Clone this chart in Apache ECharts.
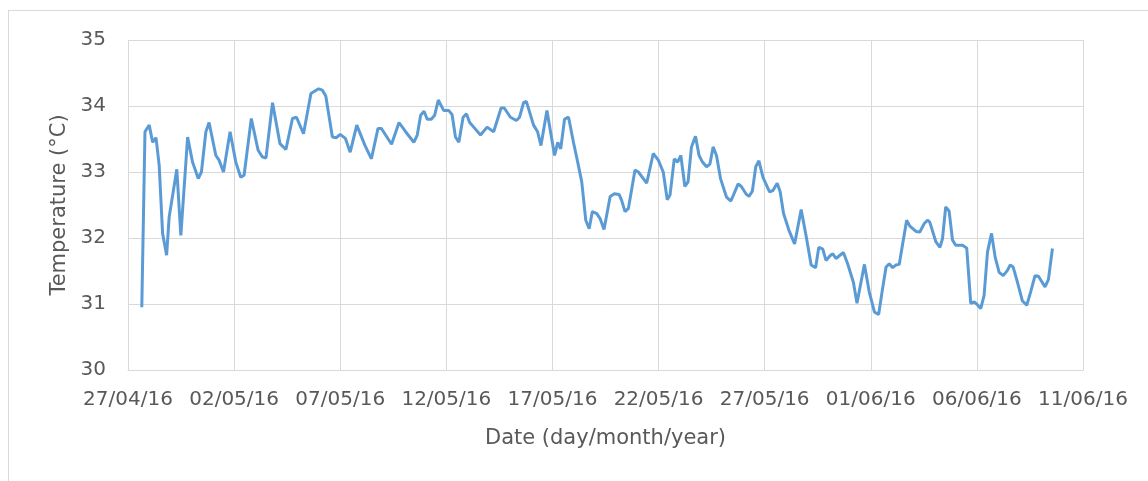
<!DOCTYPE html>
<html>
<head>
<meta charset="utf-8">
<script src="https://cdn.jsdelivr.net/npm/echarts@6/dist/echarts.min.js"></script>
<style>
  html, body { margin: 0; padding: 0; background: #fff; }
  #frame { position: absolute; left: 8px; top: 10px; width: 1200px; height: 520px; border: 1px solid #d9d9d9; }
  #chart { position: absolute; left: 0; top: 0; width: 1148px; height: 481px; }
</style>
</head>
<body>
<div id="frame"></div>
<div id="chart"></div>
<script>
// x tick labels, every 5 days from 27/04/16
const tickLabels = ['27/04/16', '02/05/16', '07/05/16', '12/05/16', '17/05/16',
  '22/05/16', '27/05/16', '01/06/16', '06/06/16', '11/06/16'];

// days since 27/04/16 00:00
const days = [
  0.65, 0.80, 1.00, 1.16, 1.32, 1.47, 1.63, 1.82, 1.94, 2.30, 2.49, 2.81, 3.04, 3.31, 3.46, 3.67, 3.82,
  4.14, 4.29, 4.50, 4.81, 5.08, 5.31, 5.47, 5.81, 6.13, 6.33, 6.50, 6.81, 7.16, 7.44, 7.75, 7.94, 8.27,
  8.62, 8.98, 9.16, 9.32, 9.63, 9.82, 10.00, 10.24, 10.47, 10.78, 11.17, 11.47, 11.78, 11.94, 12.42,
  12.77, 13.08, 13.47, 13.63, 13.79, 13.95, 14.10, 14.29, 14.45, 14.62, 14.88, 15.12, 15.27, 15.43,
  15.59, 15.79, 15.95, 16.10, 16.29, 16.61, 16.92, 17.23, 17.58, 17.73, 18.02, 18.30, 18.45, 18.64,
  18.77, 19.11, 19.30, 19.46, 19.74, 20.10, 20.25, 20.39, 20.57, 20.76, 20.99, 21.19, 21.38, 21.57,
  21.73, 21.88, 22.09, 22.25, 22.43, 22.72, 22.92, 23.14, 23.26, 23.42, 23.58, 23.89, 24.05, 24.44,
  24.75, 24.99, 25.22, 25.41, 25.54, 25.74, 25.90, 26.05, 26.24, 26.39, 26.55, 26.74, 26.91, 27.07,
  27.26, 27.42, 27.57, 27.73, 27.92, 28.20, 28.41, 28.75, 28.90, 29.14, 29.26, 29.42, 29.58, 29.73,
  29.92, 30.23, 30.39, 30.59, 30.73, 30.89, 31.14, 31.41, 31.72, 31.96, 32.19, 32.40, 32.55, 32.74,
  32.89, 33.08, 33.21, 33.36, 33.71, 33.91, 34.18, 34.35, 34.70, 34.93, 35.17, 35.37, 35.53, 35.72,
  35.87, 36.03, 36.18, 36.34, 36.69, 36.84, 37.13, 37.31, 37.52, 37.67, 37.78, 38.07, 38.26, 38.38,
  38.53, 38.69, 38.85, 39.00, 39.32, 39.52, 39.71, 39.87, 39.99, 40.18, 40.34, 40.50, 40.69, 40.86,
  41.05, 41.24, 41.44, 41.57, 41.71, 41.91, 42.14, 42.35, 42.53, 42.74, 42.90, 43.21, 43.37, 43.56
];

// temperature (°C)
const temps = [
  30.95, 33.61, 33.71, 33.45, 33.52, 33.10, 32.07, 31.74, 32.32, 33.04, 32.04, 33.53, 33.15, 32.90, 33.00, 33.61, 33.75,
  33.25, 33.18, 33.00, 33.61, 33.15, 32.92, 32.95, 33.81, 33.33, 33.23, 33.21, 34.05, 33.43, 33.34, 33.81, 33.83, 33.58,
  34.19, 34.26, 34.24, 34.15, 33.53, 33.52, 33.57, 33.51, 33.30, 33.71, 33.40, 33.20, 33.66, 33.66, 33.42,
  33.75, 33.61, 33.45, 33.56, 33.86, 33.92, 33.80, 33.80, 33.86, 34.09, 33.93, 33.93, 33.87, 33.53,
  33.45, 33.83, 33.88, 33.75, 33.68, 33.56, 33.68, 33.61, 33.97, 33.97, 33.83, 33.78, 33.83, 34.05,
  34.07, 33.71, 33.61, 33.40, 33.93, 33.25, 33.45, 33.35, 33.80, 33.83, 33.45, 33.15, 32.85, 32.27,
  32.14, 32.40, 32.37, 32.29, 32.13, 32.63, 32.67, 32.66, 32.57, 32.40, 32.45, 33.03, 33.00, 32.83,
  33.28, 33.18, 33.00, 32.58, 32.65, 33.20, 33.15, 33.25, 32.78, 32.85, 33.38, 33.54, 33.25, 33.15,
  33.08, 33.12, 33.38, 33.25, 32.90, 32.62, 32.56, 32.82, 32.78, 32.66, 32.63, 32.71, 33.08, 33.17,
  32.92, 32.70, 32.72, 32.83, 32.70, 32.37, 32.12, 31.91, 32.43, 32.02, 31.59, 31.55, 31.86, 31.83,
  31.66, 31.73, 31.76, 31.69, 31.78, 31.61, 31.33, 31.01, 31.60, 31.18, 30.88, 30.84, 31.18, 31.56,
  31.61, 31.55, 31.59, 31.60, 32.27, 32.18, 32.10, 32.09, 32.22, 32.27, 32.24, 31.94, 31.86, 31.99,
  32.47, 32.41, 31.97, 31.89, 31.89, 31.85, 31.01, 31.03, 31.00, 30.93, 31.13, 31.79, 32.07, 31.71,
  31.48, 31.43, 31.51, 31.59, 31.56, 31.33, 31.05, 30.98, 31.18, 31.43, 31.42, 31.26, 31.37, 31.84
];

const chart = echarts.init(document.getElementById('chart'));
const textColor = '#595959';
const fontFamily = '"DejaVu Sans", sans-serif';

chart.setOption({
  animation: false,
  grid: { left: 128, right: 65, top: 40, bottom: 111, containLabel: false },
  xAxis: {
    type: 'value',
    min: 0,
    max: 45,
    interval: 5,
    name: 'Date (day/month/year)',
    nameLocation: 'middle',
    nameGap: 58,
    nameTextStyle: { color: textColor, fontSize: 21, fontFamily },
    axisLine: { show: true, lineStyle: { color: '#d9d9d9', width: 1 } },
    axisTick: { show: false },
    axisLabel: {
      color: textColor, fontSize: 20, fontFamily, margin: 20,
      formatter: (v) => tickLabels[Math.round(v / 5)]
    },
    splitLine: { show: true, lineStyle: { color: '#d9d9d9', width: 1 } }
  },
  yAxis: {
    type: 'value',
    min: 30,
    max: 35,
    interval: 1,
    name: 'Temperature (°C)',
    nameLocation: 'middle',
    nameGap: 58,
    nameTextStyle: { color: textColor, fontSize: 21, fontFamily },
    axisLine: { show: false },
    axisTick: { show: false },
    axisLabel: { color: textColor, fontSize: 20, fontFamily, margin: 22 },
    splitLine: { show: true, lineStyle: { color: '#d9d9d9', width: 1 } }
  },
  series: [{
    type: 'line',
    data: days.map((d, i) => [d, temps[i]]),
    showSymbol: false,
    lineStyle: { color: '#5b9bd5', width: 3 },
    itemStyle: { color: '#5b9bd5' }
  }]
});
</script>
</body>
</html>
